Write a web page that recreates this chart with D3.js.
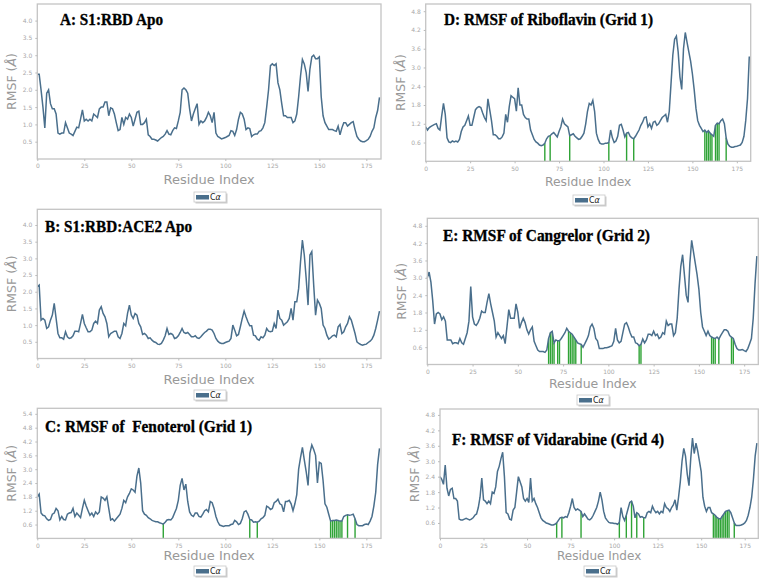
<html>
<head>
<style>
  body { margin: 0; background: #fff; }
  svg text { white-space: pre; }
</style>
</head>
<body>
<svg width="764" height="582"></svg>
<script src="https://cdnjs.cloudflare.com/ajax/libs/d3/7.8.5/d3.min.js"></script>
<script>
// RMSF per residue (index 0..182)
const rmsfA = [2.45,2.45,2.0,1.5,0.9,1.9,2.0,1.6,1.45,1.45,
  1.3,0.75,0.72,0.75,0.75,1.05,0.9,0.75,0.72,0.68,
  0.8,0.92,0.9,1.15,1.42,1.1,1.15,1.1,1.15,1.1,
  1.3,1.25,1.2,1.45,1.5,1.5,1.65,1.65,1.25,1.48,
  1.45,1.3,1.05,0.82,0.85,1.2,1.0,1.2,1.15,1.3,
  1.2,0.95,1.15,1.35,1.38,1.0,1.0,1.05,1.15,0.7,
  0.65,0.57,0.57,0.55,0.52,0.57,0.62,0.65,0.72,0.82,
  0.72,0.7,0.82,0.9,0.88,1.1,1.35,2.0,2.05,2.0,
  1.9,1.45,1.1,1.3,1.45,1.6,1.0,1.1,1.05,1.1,
  1.2,1.35,1.25,1.05,1.35,0.75,0.65,0.62,0.58,0.6,
  0.62,0.65,0.68,0.82,0.8,0.68,0.85,1.15,1.35,1.3,
  1.15,0.85,0.9,0.88,0.65,0.7,0.72,0.72,0.8,0.82,
  0.9,1.05,1.5,2.0,2.7,2.75,2.7,2.75,2.2,2.0,
  1.6,1.25,1.25,1.2,1.2,1.2,1.05,1.1,1.3,1.8,
  2.4,2.88,2.75,2.5,1.95,2.6,2.95,3.0,2.9,2.9,
  2.95,1.8,1.25,1.05,0.95,0.85,0.85,0.85,0.82,0.8,
  0.95,0.7,0.9,1.05,1.05,0.95,1.0,1.05,1.08,0.85,
  0.65,0.57,0.52,0.5,0.5,0.53,0.57,0.65,0.8,0.9,
  1.2,1.4,1.78];

const rmsfB = [2.15,2.2,1.15,1.2,1.15,0.9,0.95,1.15,1.3,1.65,
  1.2,0.75,0.62,0.62,0.58,0.8,0.65,0.6,0.62,0.68,
  0.82,0.82,0.8,1.05,1.32,1.05,0.92,0.8,0.8,0.85,
  1.05,1.12,1.05,1.45,1.55,1.35,1.25,1.05,0.65,0.75,
  0.78,0.82,0.82,0.65,0.6,0.75,1.05,0.98,1.35,1.6,
  1.3,1.2,1.35,1.3,1.05,0.95,0.72,0.75,0.7,0.6,
  0.62,0.55,0.5,0.48,0.43,0.42,0.45,0.55,0.68,0.9,
  0.72,0.75,0.72,0.6,0.62,0.68,0.78,0.9,0.78,0.75,
  0.78,0.72,0.65,0.65,0.68,0.62,0.6,0.65,0.72,0.78,
  0.82,0.88,0.88,0.85,0.75,0.6,0.52,0.47,0.45,0.45,
  0.48,0.5,0.52,0.6,1.0,0.85,0.68,0.72,0.95,1.2,
  1.42,1.25,1.1,0.98,0.98,0.7,0.68,0.58,0.55,0.65,
  0.62,0.7,0.9,0.82,0.8,0.82,1.05,0.9,1.45,1.2,
  1.15,1.0,1.05,1.1,1.2,1.5,1.15,1.7,1.7,2.1,
  2.9,3.55,3.1,2.4,1.6,3.1,3.2,2.2,1.3,1.75,
  1.65,1.5,1.0,0.9,0.7,0.58,0.62,0.68,0.7,0.65,
  0.95,1.02,0.75,0.8,0.95,1.05,1.25,1.15,0.95,0.75,
  0.5,0.45,0.42,0.4,0.42,0.43,0.48,0.52,0.58,0.7,
  0.9,1.15,1.42];

const rmsfC = [1.8,1.92,1.1,1.0,0.98,0.85,0.78,0.82,1.05,1.1,
  1.3,1.2,0.8,0.95,0.82,0.8,1.05,1.1,1.12,1.3,
  0.95,1.1,1.0,0.9,1.3,1.65,1.4,1.2,1.0,1.1,
  0.95,1.15,1.05,1.15,1.8,1.75,1.65,1.8,1.3,0.8,
  0.85,0.75,0.85,0.95,1.05,1.3,1.65,1.55,1.8,1.95,
  2.15,2.1,2.0,2.7,3.05,2.4,1.2,1.05,1.0,0.9,
  0.85,0.78,0.75,0.72,0.72,0.68,0.65,0.62,0.7,0.8,
  0.82,0.8,0.9,1.1,1.3,1.65,2.3,2.6,2.1,2.35,
  1.6,1.15,1.0,0.95,1.1,1.1,0.95,0.92,1.05,1.2,
  1.25,1.15,1.6,1.55,1.3,0.95,0.72,0.58,0.55,0.52,
  0.55,0.55,0.55,0.6,0.62,0.78,0.72,0.6,0.65,0.85,
  1.15,1.2,1.05,0.82,0.8,0.7,0.72,0.7,0.75,0.85,
  0.9,1.0,1.4,1.35,1.25,1.3,1.55,1.6,1.7,1.5,
  1.45,1.15,1.6,1.6,1.65,1.5,1.2,1.5,1.9,3.0,
  3.5,3.95,3.4,2.9,2.3,3.7,4.05,3.85,3.6,2.4,
  3.3,3.25,2.5,1.5,1.35,1.05,0.75,0.78,0.78,0.8,
  0.78,0.75,0.75,0.95,1.0,1.02,1.0,1.02,1.05,0.85,
  0.6,0.55,0.55,0.55,0.6,0.62,0.6,0.75,0.95,1.4,
  2.0,3.2,3.9];

const rmsfD = [1.1,1.0,1.08,1.12,1.15,1.18,1.2,1.05,1.0,1.45,
  1.85,1.5,0.75,0.62,0.6,0.65,0.62,0.65,0.62,0.7,
  0.95,1.1,1.15,1.3,1.45,1.15,1.15,1.4,1.65,1.72,
  1.75,1.72,1.55,1.4,1.3,2.0,1.65,1.3,0.85,0.85,
  0.8,0.72,0.72,0.78,0.9,1.5,1.25,1.75,2.1,2.05,
  2.0,1.6,2.35,1.8,1.8,1.5,1.4,1.35,1.35,1.0,
  0.85,0.7,0.62,0.58,0.52,0.5,0.52,0.58,0.72,0.8,
  0.82,0.88,0.92,0.85,0.78,0.95,1.1,1.35,1.2,1.15,
  1.1,0.82,0.85,0.88,0.8,0.75,0.7,0.72,0.8,0.9,
  1.2,1.6,1.85,1.8,1.95,1.6,0.9,0.7,0.58,0.55,
  0.55,0.58,0.58,0.6,1.0,0.75,0.6,0.65,0.8,1.15,
  1.18,1.0,0.78,0.9,0.92,0.8,0.75,0.72,0.8,0.9,
  1.0,1.15,1.25,1.4,1.42,1.1,1.2,1.05,1.25,1.28,
  1.15,1.2,1.3,1.4,1.45,1.5,1.25,1.6,2.5,3.4,
  3.9,4.0,3.5,2.7,2.3,3.6,4.12,3.8,3.5,3.2,
  2.8,2.3,1.7,1.3,1.15,1.05,0.95,1.0,0.92,0.98,
  0.9,0.85,0.8,1.15,1.22,1.2,1.3,1.35,1.2,0.75,
  0.55,0.48,0.45,0.45,0.47,0.48,0.5,0.52,0.6,0.8,
  1.3,2.0,3.35];

const rmsfE = [3.0,3.2,2.85,2.2,1.4,1.75,1.8,1.75,1.55,1.65,
  1.5,0.85,0.85,0.85,0.72,0.75,0.75,0.72,0.9,0.75,
  0.7,0.9,1.1,1.5,2.7,1.65,1.4,1.35,1.45,1.6,
  1.85,1.8,1.8,2.15,2.45,2.1,1.8,1.5,0.95,1.1,
  1.0,0.9,1.0,0.72,1.3,1.9,1.6,1.6,1.6,2.1,
  1.8,1.25,1.45,1.6,1.45,1.2,1.05,1.2,1.3,0.8,
  0.65,0.5,0.45,0.45,0.45,0.42,0.5,0.9,1.1,1.15,
  0.75,0.85,0.82,0.82,0.9,1.0,1.1,1.25,1.15,1.1,
  1.05,0.95,0.85,0.75,0.72,0.7,0.6,0.72,0.85,1.0,
  1.3,1.4,1.25,0.9,0.82,0.55,0.55,0.55,0.58,0.58,
  0.6,0.62,0.65,0.8,1.25,0.85,0.75,0.8,1.1,1.4,
  1.45,1.3,1.1,0.95,0.95,0.75,0.72,0.65,0.7,0.88,
  0.75,0.85,1.05,1.05,1.0,1.15,1.0,1.05,0.9,0.95,
  1.1,1.05,1.5,1.35,1.4,1.4,1.0,1.1,1.6,2.6,
  3.4,3.8,3.1,2.4,2.15,3.5,4.3,3.9,3.5,3.1,
  2.6,1.8,1.3,1.15,1.0,1.15,1.0,0.95,0.92,0.9,
  0.95,0.88,1.0,1.1,1.2,1.2,1.15,1.0,0.95,0.9,
  0.7,0.55,0.5,0.5,0.52,0.48,0.45,0.55,0.72,0.9,
  1.6,2.8,3.75];

const rmsfF = [2.4,2.3,2.1,2.85,1.95,1.65,1.9,1.95,1.55,1.55,
  1.45,0.75,0.72,0.72,0.75,0.78,0.75,0.72,0.75,0.8,
  0.9,0.95,1.2,1.6,2.35,1.5,1.45,1.35,1.45,1.35,
  1.8,1.75,2.0,2.6,2.8,3.1,3.35,2.4,1.0,0.95,
  0.75,0.72,1.1,1.2,1.8,2.4,2.2,2.0,1.55,1.45,
  1.55,1.4,2.35,1.45,1.55,1.35,1.2,1.0,0.8,0.7,
  0.65,0.6,0.58,0.55,0.52,0.52,0.55,0.6,0.7,0.8,
  0.82,0.8,0.85,0.82,1.0,1.25,1.55,1.2,1.1,1.15,
  1.1,1.05,0.85,0.95,0.85,0.75,0.72,0.78,0.9,1.05,
  1.2,1.45,1.8,1.5,1.05,0.8,0.7,0.62,0.6,0.6,
  0.58,0.58,0.55,0.62,1.2,0.85,0.7,0.9,1.15,1.4,
  1.45,1.25,0.8,1.0,0.95,0.82,0.85,0.8,0.8,1.0,
  1.05,1.0,1.25,1.1,1.0,1.05,0.95,1.05,1.0,1.35,
  1.2,1.15,1.05,1.2,1.3,1.5,1.1,1.6,2.2,3.0,
  3.5,3.2,2.5,2.05,3.1,3.9,3.3,3.7,3.4,3.0,
  2.6,1.6,1.25,1.05,1.2,1.2,1.0,0.95,0.9,0.82,
  0.78,0.75,0.85,0.95,1.05,1.08,1.1,1.0,0.8,0.6,
  0.5,0.5,0.5,0.52,0.55,0.6,0.7,0.9,1.2,1.6,
  2.3,3.2,3.7];

// ligand contact residues (green bars)
const contactsC = [67,113,117,156,157,158,159,160,161,162,165,169];
const contactsD = [67,70,81,103,113,117,157,158,159,160,161,163,164,165,169];
const contactsE = [67,68,69,70,72,73,78,79,80,81,82,85,117,118,157,158,159,161,168,169];
const contactsF = [67,70,81,103,107,110,113,117,157,158,159,160,161,162,163,164,165,166,169];

const xTicks = [0,25,50,75,100,125,150,175];
const yTicksApo = [0.5,1.0,1.5,2.0,2.5,3.0,3.5,4.0];
const yTicksC = [0.6,1.2,1.8,2.4,3.0,3.6,4.2,4.8,5.4];
const yTicksLig = [0.6,1.2,1.8,2.4,3.0,3.6,4.2,4.8];

const titles = ['A: S1:RBD Apo', 'B: S1:RBD:ACE2 Apo', 'C: RMSF of  Fenoterol (Grid 1)',
  'D: RMSF of Riboflavin (Grid 1)', 'E: RMSF of Cangrelor (Grid 2)', 'F: RMSF of Vidarabine (Grid 4)'];

const lineColor = '#4a6f8c';
const green = '#2fa336';
const svg = d3.select('svg');

const panels = [
  {title: titles[0], values: rmsfA, contacts: [], yTicks: yTicksApo, ymax: 4.48,
   box: [37.3, 4, 381, 159], tw: 103, tt: [60, 25], xl: 25, xls: 13, leg: [194, 192]},
  {title: titles[1], values: rmsfB, contacts: [], yTicks: yTicksApo, ymax: 4.47,
   box: [37.3, 209.3, 381, 358.5], tw: 147, tt: [45, 232], xl: 25, xls: 13, leg: [194, 390]},
  {title: titles[2], values: rmsfC, contacts: contactsC, yTicks: yTicksC, ymax: 5.64,
   box: [37.3, 408.3, 381, 538.4], tw: 207, tt: [45, 432], xl: 22, xls: 13, leg: [194, 566]},
  {title: titles[3], values: rmsfD, contacts: contactsD, yTicks: yTicksLig, ymax: 5.03,
   box: [425.7, 4, 750.7, 161.3], tw: 209, tt: [444, 25], xl: 25, xls: 12.3, leg: [573, 195]},
  {title: titles[4], values: rmsfE, contacts: contactsE, yTicks: yTicksLig, ymax: 5.06,
   box: [427.3, 218.3, 758.3, 364.5], tw: 207, tt: [443, 241], xl: 23, xls: 12.5, leg: [577, 395]},
  {title: titles[5], values: rmsfF, contacts: contactsF, yTicks: yTicksLig, ymax: 5.03,
   box: [440, 409, 758.3, 538.4], tw: 212, tt: [452, 445], xl: 22, xls: 12, leg: [584, 566]}
];

panels.forEach(p => {
  const [l, t, r, b] = p.box;
  const x = d3.scaleLinear().domain([0, 182.8]).range([l, r]);
  const y = d3.scaleLinear().domain([0, p.ymax]).range([b, t]);
  const g = svg.append('g');

  // contacts
  g.selectAll('line.contact').data(p.contacts).enter().append('line')
    .attr('class', 'contact')
    .attr('x1', d => x(d)).attr('x2', d => x(d))
    .attr('y1', y(0)).attr('y2', d => y(p.values[d]))
    .attr('stroke', green).attr('stroke-width', 1.4);

  const line = d3.line().x((d, i) => x(i)).y(d => y(d));
  g.append('path').datum(p.values)
    .attr('d', line).attr('fill', 'none')
    .attr('stroke', lineColor).attr('stroke-width', 1.5);

  // frame
  g.append('rect').attr('x', l).attr('y', t).attr('width', r - l).attr('height', b - t)
    .attr('fill', 'none').attr('stroke', '#c4c4c4').attr('stroke-width', 1.3);

  // axes
  const ax = g.append('g').attr('transform', `translate(0,${b})`)
    .call(d3.axisBottom(x).tickValues(xTicks).tickSize(2).tickPadding(3));
  const ay = g.append('g').attr('transform', `translate(${l},0)`)
    .call(d3.axisLeft(y).tickValues(p.yTicks).tickFormat(d3.format('.1f')).tickSize(2).tickPadding(3));
  [ax, ay].forEach(a => {
    a.select('.domain').remove();
    a.selectAll('line').attr('stroke', '#bbb');
    a.selectAll('text').attr('fill', '#a8a8a8').style('font-family', 'DejaVu Sans').style('font-size', '6px');
  });

  // labels
  g.append('text').attr('x', (l + r) / 2).attr('y', b + p.xl)
    .attr('text-anchor', 'middle').attr('fill', '#999')
    .style('font-family', 'DejaVu Sans').style('font-size', p.xls + 'px')
    .text('Residue Index');

  const yl = g.append('text')
    .attr('transform', `translate(${l - 21},${(t + b) / 2}) rotate(-90)`)
    .attr('text-anchor', 'middle').attr('fill', '#999')
    .style('font-family', 'DejaVu Sans').style('font-size', '12.5px');
  yl.append('tspan').text('RMSF (');
  yl.append('tspan').style('font-style', 'italic').text('Å');
  yl.append('tspan').text(')');

  g.append('text').attr('x', p.tt[0]).attr('y', p.tt[1])
    .attr('textLength', p.tw).attr('lengthAdjust', 'spacingAndGlyphs')
    .style('font-family', 'Liberation Serif').style('font-weight', 'bold').style('font-size', '17.5px')
    .attr('fill', '#000').attr('stroke', '#000').attr('stroke-width', 0.35)
    .text(p.title);

  // legend
  const [lx, ly] = p.leg;
  const lg = g.append('g').attr('transform', `translate(${lx},${ly})`);
  lg.append('rect').attr('x', 1.5).attr('y', 1.5).attr('width', 32).attr('height', 10)
    .attr('fill', '#aaa').attr('opacity', 0.6);
  lg.append('rect').attr('width', 32).attr('height', 10)
    .attr('fill', '#fff').attr('stroke', '#c8c8c8').attr('stroke-width', 0.8);
  lg.append('rect').attr('x', 2).attr('y', 3).attr('width', 13).attr('height', 4.5).attr('fill', lineColor);
  const lt = lg.append('text').attr('x', 16).attr('y', 8)
    .style('font-family', 'DejaVu Sans').style('font-size', '8px').attr('fill', '#222');
  lt.append('tspan').text('C');
  lt.append('tspan').style('font-style', 'italic').text('α');
});
</script>
</body>
</html>
